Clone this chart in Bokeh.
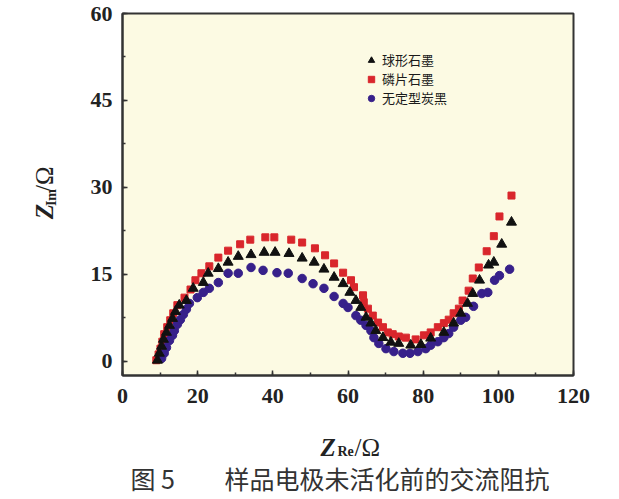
import math
from bokeh.plotting import figure
from bokeh.models import Label, Legend, LegendItem, Range1d, SingleIntervalTicker
from bokeh.layouts import column, row
from bokeh.embed import file_html
from bokeh.resources import INLINE

# ---- data ----
series_names = ["球形石墨", "磷片石墨", "无定型炭黑"]

flake_x = [9.0, 9.6, 10.1, 10.6, 11.1, 11.9, 12.7, 13.5, 14.6, 16.5, 18.1, 19.4, 21.0, 23.1, 25.5,
           28.1, 31.3, 34.0, 38.0, 40.4, 44.9, 47.8, 51.2, 53.9, 56.3, 58.7, 60.8, 61.6, 64.0,
           64.2, 65.3, 66.6, 68.0, 69.3, 70.6, 71.9, 73.5, 75.4, 78.0, 80.2, 82.0, 83.9, 85.5,
           86.8, 88.1, 89.5, 90.5, 92.1, 93.2, 94.8, 96.9, 98.8, 100.3, 103.5]
flake_y = [0.2, 1.2, 2.2, 3.4, 4.7, 5.9, 7.1, 8.3, 9.7, 11.0, 12.4, 14.0, 15.2, 16.4, 17.9,
           19.1, 20.2, 21.0, 21.4, 21.4, 21.0, 20.5, 19.5, 18.3, 16.9, 15.3, 14.0, 12.8, 11.4,
           10.2, 9.1, 7.9, 6.7, 5.9, 5.0, 4.7, 4.3, 4.1, 3.8, 4.5, 5.0, 5.9, 6.6,
           7.2, 8.3, 9.1, 10.5, 12.2, 14.3, 16.2, 19.0, 21.6, 25.0, 28.6]

sphere_x = [9.3, 9.8, 10.4, 10.9, 11.7, 12.5, 13.3, 14.1, 15.1, 17.0, 18.8, 21.5, 22.8, 25.5,
            28.1, 30.8, 34.2, 37.7, 40.6, 44.3, 47.8, 51.0, 53.6, 56.3, 58.7, 60.5, 62.1,
            63.4, 64.8, 66.1, 67.4, 69.3, 71.4, 73.5, 76.7, 79.4, 82.0, 85.5, 88.1, 90.0,
            91.8, 93.2, 95.0, 97.4, 98.8, 100.9, 103.5]
sphere_y = [0.2, 1.4, 2.6, 3.8, 5.0, 6.2, 7.4, 8.6, 9.7, 10.5, 12.6, 13.6, 15.2, 16.0,
            17.1, 18.1, 18.4, 18.8, 18.8, 18.6, 17.8, 17.1, 15.9, 14.5, 13.4, 11.9, 10.5,
            9.3, 7.6, 6.6, 5.3, 4.1, 3.3, 3.1, 2.8, 2.9, 4.0, 5.0, 6.6, 8.3,
            10.0, 11.7, 14.0, 16.6, 17.1, 20.2, 24.0]

carbon_x = [10.4, 11.1, 11.7, 12.5, 13.3, 13.8, 14.6, 15.4, 16.2, 17.0, 17.8, 19.9, 21.5, 23.1,
            25.5, 28.1, 30.8, 34.2, 37.4, 41.1, 44.1, 47.8, 50.7, 53.6, 56.3, 58.7, 60.0,
            62.1, 63.4, 64.8, 66.1, 66.9, 68.2, 70.1, 72.2, 74.6, 76.5, 78.6, 80.7, 82.0,
            83.9, 85.5, 86.8, 88.1, 90.0, 91.3, 93.4, 95.6, 97.2, 99.0, 100.3, 103.0]
carbon_y = [0.5, 1.4, 2.4, 3.6, 4.5, 5.3, 6.4, 7.2, 8.1, 9.0, 10.0, 11.0, 11.9, 12.6,
            13.6, 15.2, 15.2, 16.2, 15.7, 15.3, 15.2, 14.3, 13.4, 12.6, 11.2, 10.0, 9.3,
            7.9, 7.1, 6.2, 5.3, 4.1, 3.1, 2.2, 1.7, 1.4, 1.4, 1.7, 2.2, 2.8,
            3.4, 4.1, 4.8, 5.9, 7.1, 7.6, 9.5, 11.7, 11.9, 14.0, 14.8, 15.9]

x_ticks_interval = 20
y_ticks_interval = 15

RED = "#d9262c"
BLUE = "#37208a"
BLACK = "#111111"

# ---------------- main plot ----------------
p = figure(width=549, height=415, output_backend="svg", toolbar_location=None,
           x_range=Range1d(0, 120), y_range=Range1d(-2.43, 60),
           min_border_left=60, min_border_right=38, min_border_top=13, min_border_bottom=40)
p.background_fill_color = "#fcfae3"
p.border_fill_color = "white"
p.outline_line_color = "#333333"
p.outline_line_width = 2
p.xgrid.visible = False
p.ygrid.visible = False

p.xaxis.ticker = SingleIntervalTicker(interval=x_ticks_interval, num_minor_ticks=2)
p.yaxis.ticker = SingleIntervalTicker(interval=y_ticks_interval, num_minor_ticks=2)
for ax in (p.xaxis, p.yaxis):
    ax.axis_line_color = "#333333"
    ax.axis_line_width = 2
    ax.major_tick_in = 5
    ax.major_tick_out = 0
    ax.minor_tick_in = 3
    ax.minor_tick_out = 0
    ax.major_tick_line_color = "#333333"
    ax.minor_tick_line_color = "#333333"
    ax.major_tick_line_width = 1.5
    ax.minor_tick_line_width = 1.5
    ax.major_label_text_font = "Liberation Serif"
    ax.major_label_text_font_style = "bold"
    ax.major_label_text_font_size = "22px"
    ax.major_label_text_color = "#222222"
    ax.axis_label = None
p.xaxis.major_label_standoff = 13
p.yaxis.major_label_standoff = 10

r_flake = p.scatter(flake_x, flake_y, marker="square", size=7, fill_color=RED, line_color=RED)
r_carbon = p.scatter(carbon_x, carbon_y, marker="circle", size=8.5, fill_color=BLUE, line_color=BLUE)
r_sphere = p.scatter(sphere_x, sphere_y, marker="triangle", size=10, fill_color=BLACK, line_color=BLACK)

legend = Legend(items=[LegendItem(label=series_names[0], renderers=[r_sphere]),
                       LegendItem(label=series_names[1], renderers=[r_flake]),
                       LegendItem(label=series_names[2], renderers=[r_carbon])],
                location=(241, 268), padding=0, margin=0, spacing=0,
                glyph_width=16, glyph_height=16, label_standoff=3, label_height=17,
                label_text_font="Noto Sans CJK SC", label_text_font_size="13px",
                label_text_line_height=0.85,
                label_text_color="#1a1a1a",
                background_fill_alpha=0, border_line_color=None)
p.add_layout(legend, "center")


def text_panel(w, h):
    f = figure(width=w, height=h, output_backend="svg", toolbar_location=None,
               x_range=Range1d(0, w), y_range=Range1d(0, h),
               x_axis_location=None, y_axis_location=None, min_border=0)
    f.outline_line_color = None
    f.background_fill_color = "white"
    f.border_fill_color = "white"
    f.grid.visible = False
    return f


def lab(f, text, x, y, size, style, angle=0.0, align="left", baseline="alphabetic",
        font="Liberation Serif", color="#222222"):
    f.add_layout(Label(x=x, y=y, text=text,
                       text_font=font, text_font_size=size, text_font_style=style,
                       text_color=color, text_align=align, text_baseline=baseline, angle=angle))


# ---------------- y axis title panel (left) ----------------
yl = text_panel(62, 415)
lab(yl, "Z", 44, 188, "25px", "bold italic", angle=math.pi / 2, align="center", baseline="middle")
lab(yl, "Im", 51, 204, "14px", "bold", angle=math.pi / 2, align="center", baseline="middle")
lab(yl, "/Ω", 44, 225, "25px", "normal", angle=math.pi / 2, align="center", baseline="middle")

# ---------------- x axis title + caption panel (bottom) ----------------
xl = text_panel(611, 82)
lab(xl, "Z", 320, 50, "25px", "bold italic")
lab(xl, "Re", 337, 46, "14px", "bold")
lab(xl, "/Ω", 354, 50, "25px", "normal")
lab(xl, "图 5", 130, 20, "25px", "normal", baseline="middle", font="Noto Sans CJK SC", color="#333333")
lab(xl, "样品电极未活化前的交流阻抗", 224, 20, "25px", "normal", baseline="middle",
    font="Noto Sans CJK SC", color="#333333")

root = column(row(yl, p, spacing=0), xl, spacing=0)
open("out.html", "w").write(file_html(root, INLINE))
